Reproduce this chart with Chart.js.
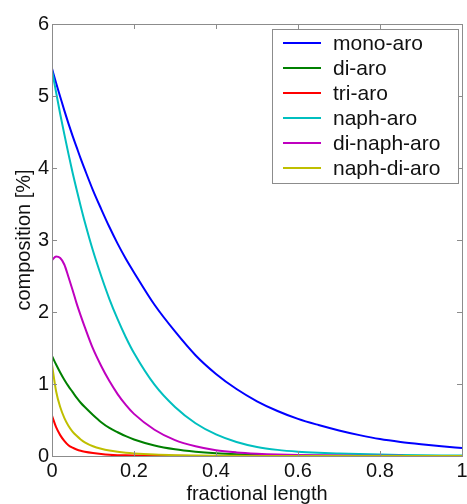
<!DOCTYPE html>
<html>
<head>
<meta charset="utf-8">
<script src="https://cdn.jsdelivr.net/npm/chart.js@4.4.1/dist/chart.umd.min.js"></script>
<style>
  html, body { margin: 0; padding: 0; background: #fff; }
  #wrap { width: 467px; height: 504px; }
</style>
</head>
<body>
<div id="wrap"><canvas id="chart" width="467" height="504"></canvas></div>
<script>
// ---- data ----
const xs = [0, 0.01, 0.02, 0.03, 0.04, 0.05, 0.06, 0.07, 0.08, 0.1, 0.12, 0.14, 0.16, 0.18, 0.2,
  0.25, 0.3, 0.35, 0.4, 0.45, 0.5, 0.55, 0.6, 0.65, 0.7, 0.75, 0.8, 0.85, 0.9, 0.95, 1.0];
const monoAro = [5.38, 5.18, 4.99, 4.80, 4.62, 4.45, 4.29, 4.13, 3.98, 3.69, 3.43, 3.18, 2.95, 2.74, 2.55,
  2.10, 1.73, 1.40, 1.14, 0.93, 0.76, 0.625, 0.515, 0.43, 0.355, 0.29, 0.235, 0.195, 0.163, 0.135, 0.11];
const diAro = [1.39, 1.27, 1.16, 1.06, 0.97, 0.89, 0.81, 0.74, 0.68, 0.57, 0.47, 0.39, 0.33, 0.275, 0.23,
  0.146, 0.093, 0.06, 0.038, 0.024, 0.015, 0.01, 0.006, 0.004, 0.003, 0.002, 0.001, 0, 0, 0, 0];
const triAro = [0.56, 0.40, 0.29, 0.21, 0.15, 0.115, 0.09, 0.072, 0.06, 0.042, 0.028, 0.018, 0.012, 0.009, 0.007,
  0.004, 0.002, 0.001, 0, 0, 0, 0, 0, 0, 0, 0, 0, 0, 0, 0, 0];
const naphAro = [5.36, 5.05, 4.75, 4.47, 4.20, 3.94, 3.70, 3.47, 3.25, 2.85, 2.50, 2.18, 1.90, 1.65, 1.43,
  0.99, 0.68, 0.455, 0.30, 0.195, 0.126, 0.085, 0.06, 0.045, 0.035, 0.027, 0.02, 0.015, 0.011, 0.008, 0.006];
const diNaphAro = [2.72, 2.77, 2.75, 2.66, 2.49, 2.31, 2.12, 1.95, 1.79, 1.49, 1.25, 1.04, 0.86, 0.71, 0.585,
  0.365, 0.22, 0.135, 0.08, 0.05, 0.032, 0.02, 0.013, 0.009, 0.006, 0.004, 0.003, 0.002, 0.001, 0.001, 0];
const naphDiAro = [1.27, 0.90, 0.68, 0.53, 0.42, 0.34, 0.28, 0.23, 0.19, 0.135, 0.10, 0.075, 0.058, 0.045, 0.036,
  0.021, 0.012, 0.007, 0.004, 0.002, 0.001, 0, 0, 0, 0, 0, 0, 0, 0, 0, 0];

const seriesNames = ['mono-aro', 'di-aro', 'tri-aro', 'naph-aro', 'di-naph-aro', 'naph-di-aro'];
const seriesValues = [monoAro, diAro, triAro, naphAro, diNaphAro, naphDiAro];
const seriesColors = ['#0000ff', '#008000', '#ff0000', '#00bfbf', '#bf00bf', '#bfbf00'];

const xTicks = [0, 0.2, 0.4, 0.6, 0.8, 1];
const yTicks = [0, 1, 2, 3, 4, 5, 6];

const FONT = "'Liberation Sans', Arial, Helvetica, sans-serif";
const FRAME = '#8c8c8c';

// MATLAB-style box, inward ticks and legend inside the axes
const boxPlugin = {
  id: 'matlabBox',
  afterDatasetsDraw(chart) {
    const { ctx, chartArea: a, scales } = chart;
    ctx.save();
    ctx.strokeStyle = FRAME;
    ctx.lineWidth = 1;
    ctx.beginPath();
    xTicks.forEach((v) => {
      const px = Math.round(scales.x.getPixelForValue(v)) + 0.5;
      ctx.moveTo(px, a.bottom); ctx.lineTo(px, a.bottom - 5);
      ctx.moveTo(px, a.top); ctx.lineTo(px, a.top + 5);
    });
    yTicks.forEach((v) => {
      const py = Math.round(scales.y.getPixelForValue(v)) + 0.5;
      ctx.moveTo(a.left, py); ctx.lineTo(a.left + 5, py);
      ctx.moveTo(a.right, py); ctx.lineTo(a.right - 5, py);
    });
    ctx.stroke();
    ctx.strokeRect(Math.round(a.left) + 0.5, Math.round(a.top) + 0.5, Math.round(a.right - a.left), Math.round(a.bottom - a.top));

    // legend
    const lx = 272, ly = 29, lw = 186, lh = 154;
    ctx.fillStyle = '#fff';
    ctx.fillRect(lx, ly, lw, lh);
    ctx.strokeRect(lx + 0.5, ly + 0.5, lw, lh);
    ctx.font = '21px ' + FONT;
    ctx.textBaseline = 'middle';
    chart.data.datasets.forEach((ds, i) => {
      const y = ly + 14 + i * 25;
      ctx.strokeStyle = ds.borderColor;
      ctx.lineWidth = 2;
      ctx.beginPath(); ctx.moveTo(283, y); ctx.lineTo(321, y); ctx.stroke();
      ctx.fillStyle = '#111';
      ctx.fillText(ds.label, 333, y + 1);
    });
    ctx.restore();
  },
};

new Chart(document.getElementById('chart'), {
  type: 'line',
  data: {
    datasets: seriesNames.map((name, i) => ({
      label: name,
      data: xs.map((x, j) => ({ x, y: seriesValues[i][j] })),
      borderColor: seriesColors[i],
      borderWidth: 2,
      pointRadius: 0,
      cubicInterpolationMode: 'monotone',
      fill: false,
      order: seriesNames.length - i,
    })),
  },
  options: {
    responsive: false,
    devicePixelRatio: 1,
    animation: false,
    layout: { padding: { top: 24, right: 5, left: 0, bottom: 0 } },
    plugins: { legend: { display: false }, tooltip: { enabled: false } },
    scales: {
      x: {
        type: 'linear', min: 0, max: 1,
        afterBuildTicks: (s) => { s.ticks = xTicks.map((v) => ({ value: v })); },
        ticks: { color: '#111', font: { family: FONT, size: 20 }, padding: 3, maxRotation: 0,
          callback: (v) => String(+Number(v).toFixed(1)) },
        grid: { display: false, drawTicks: false },
        border: { display: false },
        title: { display: true, text: 'fractional length', color: '#111', font: { family: FONT, size: 20 }, padding: { top: 0, bottom: -2 } },
        afterFit: (s) => { s.height = 48; s.paddingLeft = 0; s.paddingRight = 0; },
      },
      y: {
        type: 'linear', min: 0, max: 6,
        afterBuildTicks: (s) => { s.ticks = yTicks.map((v) => ({ value: v })); },
        ticks: { color: '#111', font: { family: FONT, size: 20 }, padding: 3, callback: (v) => String(v) },
        grid: { display: false, drawTicks: false },
        border: { display: false },
        title: { display: true, text: 'composition [%]', color: '#111', font: { family: FONT, size: 20 }, padding: { top: 12, bottom: 0 } },
        afterFit: (s) => { s.width = 52; s.paddingTop = 0; s.paddingBottom = 0; },
      },
    },
  },
  plugins: [boxPlugin],
});
</script>
</body>
</html>
